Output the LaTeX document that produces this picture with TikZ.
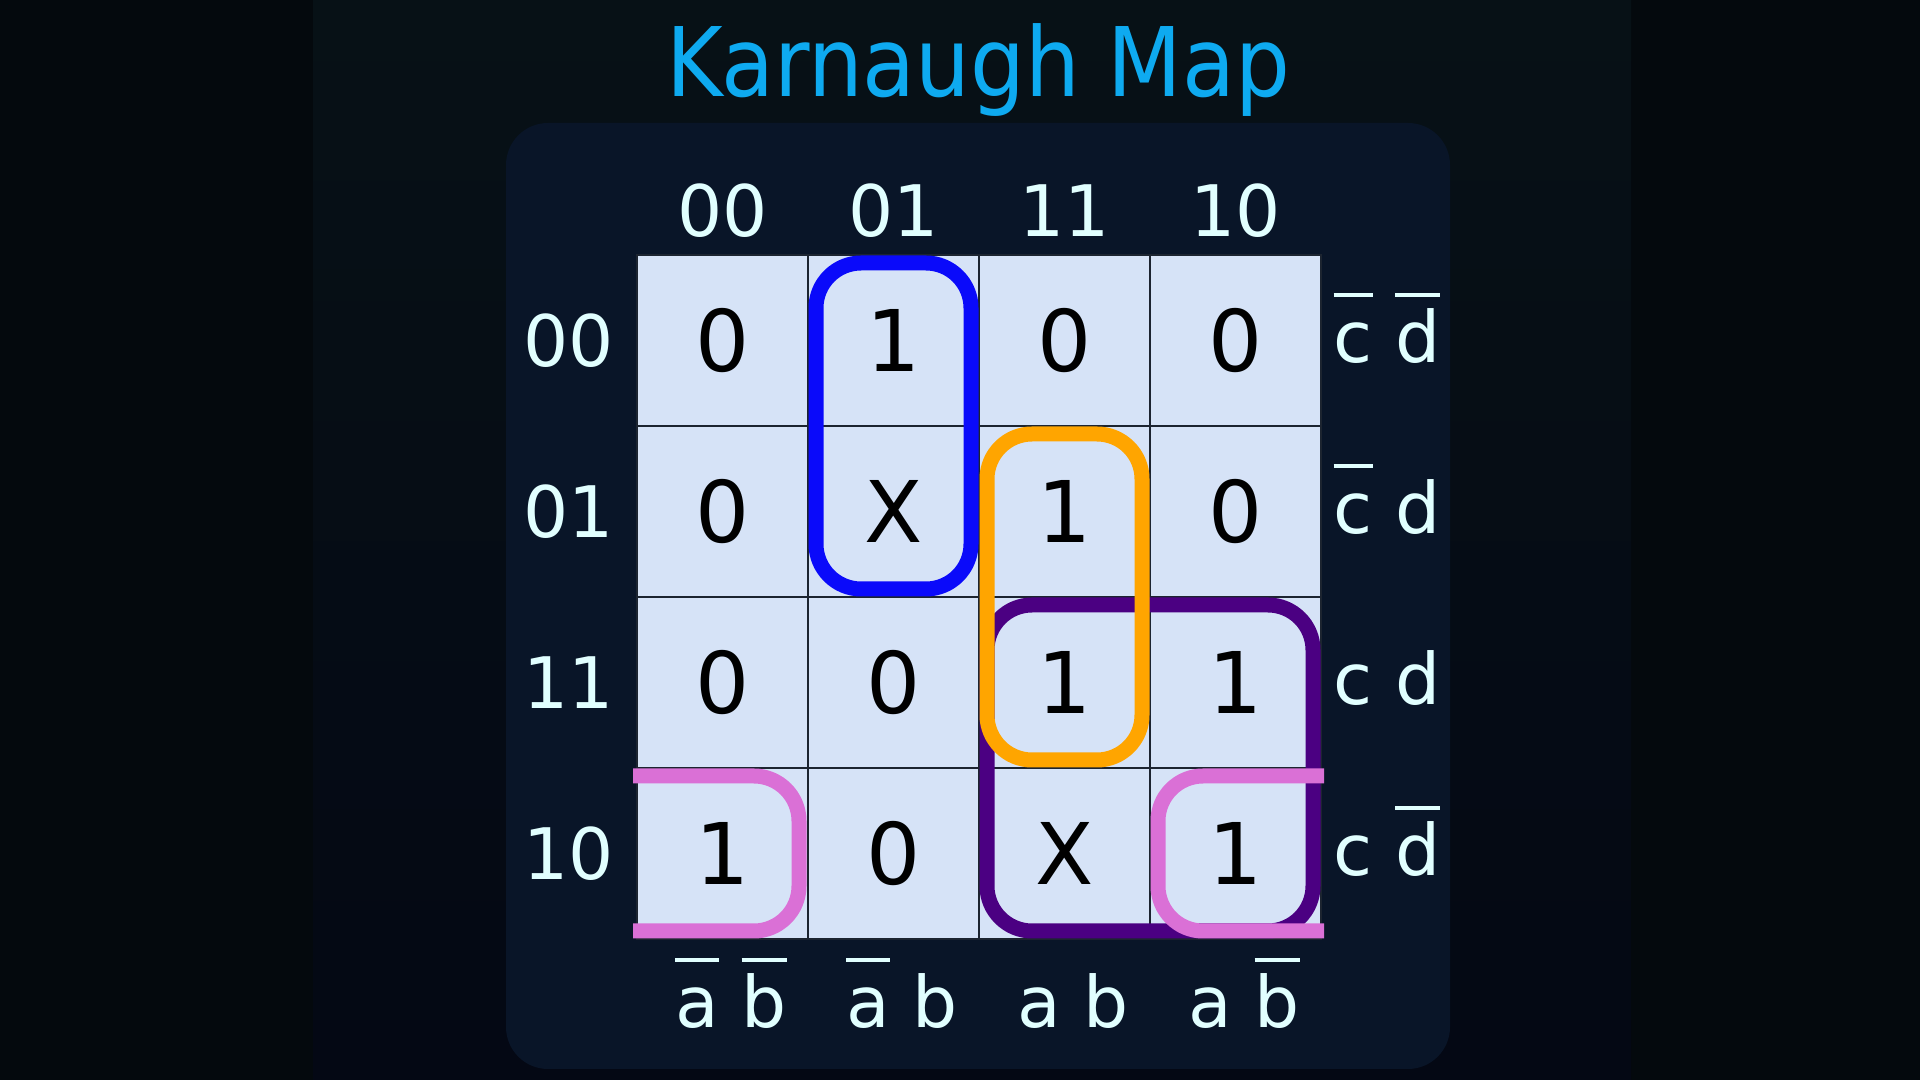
\documentclass[tikz,border=0pt]{standalone}
\usepackage{fontspec}
\setmainfont{DejaVu Sans}
\newfontfamily\titlefont[FakeStretch=0.9]{DejaVu Sans}
\usetikzlibrary{positioning}
\definecolor{bgside}{RGB}{4,9,13}
\definecolor{bgtop}{RGB}{7,17,22}
\definecolor{bgbottom}{RGB}{4,8,20}
\definecolor{panel}{RGB}{9,21,40}
\definecolor{cellfill}{RGB}{214,227,247}
\definecolor{gridline}{RGB}{28,36,48}
\definecolor{labeltext}{RGB}{225,255,255}
\definecolor{titleblue}{RGB}{14,170,240}
\definecolor{grpblue}{RGB}{10,10,250}
\definecolor{grporange}{RGB}{255,165,0}
\definecolor{grppurple}{RGB}{75,0,130}
\definecolor{grppink}{RGB}{218,112,214}
\newcommand{\ovl}[1]{\leavevmode\setbox0\hbox{#1}\rlap{\rule[0.93em]{\wd0}{0.06em}}\box0\relax}
\tikzset{
    cell/.style={draw=gridline, fill=cellfill, line width=0.6pt, minimum size=1.71cm, inner sep=0pt, text=black, font=\fontsize{24.2}{29}\selectfont},
    hdr/.style={text=labeltext, inner sep=0pt, font=\fontsize{20.2}{24}\selectfont},
    side/.style={hdr, anchor=base},
    group/.style={line width=0.15cm, rounded corners=0.45cm}
}

\begin{document}
\begin{tikzpicture}[x=0.01cm,y=-0.01cm]
\useasboundingbox (0,0) rectangle (1920,1080);
\fill[bgside] (0,0) rectangle (1920,1080);
\shade[top color=bgtop, bottom color=bgbottom] (313,0) rectangle (1631,1080);
\fill[panel, rounded corners=0.42cm] (506,123) rectangle (1450,1069);
\node[anchor=base, text=titleblue, inner sep=0pt, font=\titlefont\fontsize{27.3}{32}\selectfont] (title) at (978,97) {Karnaugh Map};
% column and row codes
\node[hdr] (col1) at (722.5,211) {00};
\node[hdr] (col2) at (893.5,211) {01};
\node[hdr] (col3) at (1064.5,211) {11};
\node[hdr] (col4) at (1235.5,211) {10};
\node[hdr] (row1) at (569,340.5) {00};
\node[hdr] (row2) at (569,511.5) {01};
\node[hdr] (row3) at (569,682.5) {11};
\node[hdr] (row4) at (569,853.5) {10};
% cells
\node[cell] (m11) at (722.5,340.5) {0};
\node[cell] (m12) at (893.5,340.5) {1};
\node[cell] (m13) at (1064.5,340.5) {0};
\node[cell] (m14) at (1235.5,340.5) {0};
\node[cell] (m21) at (722.5,511.5) {0};
\node[cell] (m22) at (893.5,511.5) {X};
\node[cell] (m23) at (1064.5,511.5) {1};
\node[cell] (m24) at (1235.5,511.5) {0};
\node[cell] (m31) at (722.5,682.5) {0};
\node[cell] (m32) at (893.5,682.5) {0};
\node[cell] (m33) at (1064.5,682.5) {1};
\node[cell] (m34) at (1235.5,682.5) {1};
\node[cell] (m41) at (722.5,853.5) {1};
\node[cell] (m42) at (893.5,853.5) {0};
\node[cell] (m43) at (1064.5,853.5) {X};
\node[cell] (m44) at (1235.5,853.5) {1};
% terms
\node[side] (cd1) at (1387,363) {\ovl{c} \ovl{d}};
\node[side] (cd2) at (1387,534) {\ovl{c} d};
\node[side] (cd3) at (1387,705) {c d};
\node[side] (cd4) at (1387,876) {c \ovl{d}};
\node[side] (ab1) at (731,1028) {\ovl{a} \ovl{b}};
\node[side] (ab2) at (902,1028) {\ovl{a} b};
\node[side] (ab3) at (1073,1028) {a b};
\node[side] (ab4) at (1244,1028) {a \ovl{b}};
% groups
\draw[group, grpblue] (816,263) rectangle (971,589);
\draw[group, grppurple] (987,605) rectangle (1313,931);
\draw[group, grppink] (633,776) -- (799,776) -- (799,931) -- (633,931);
\draw[group, grppink] (1324,776) -- (1158,776) -- (1158,931) -- (1324,931);
\draw[group, grporange] (987,434) rectangle (1142,760);
\end{tikzpicture}
\end{document}
